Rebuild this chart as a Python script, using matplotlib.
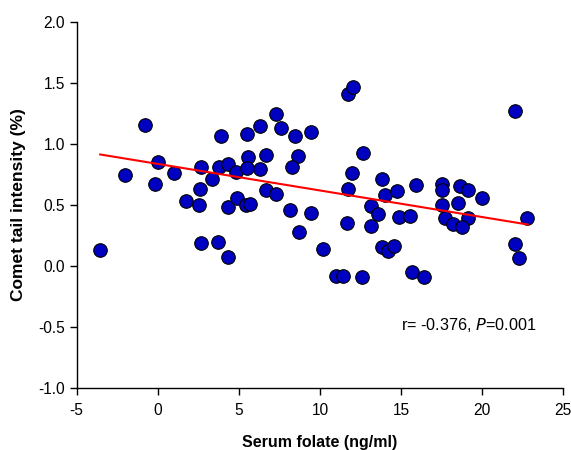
import matplotlib
matplotlib.use("Agg")
import matplotlib.pyplot as plt

plt.rcParams['font.family'] = ['Liberation Sans', 'DejaVu Sans']

# Serum folate (ng/ml) and comet tail intensity (%)
folate = [-3.55, -2.01, -0.76, 0.00, -0.15, 1.00, 1.76, 2.65, 2.58, 2.56, 2.68,
          3.90, 3.75, 3.36, 4.34, 4.80, 3.71, 4.31, 4.33, 4.90, 5.43, 5.48, 5.58,
          5.48, 5.68, 6.30, 7.28, 7.60, 6.66, 6.30, 8.47, 9.45, 8.65, 8.25,
          6.65, 7.28, 8.16, 9.45, 8.71, 10.17, 11.00, 11.40, 12.60, 11.73, 12.04,
          12.65, 11.96, 11.75, 11.65, 13.15, 13.56, 13.15, 13.82, 14.03, 14.75,
          14.89, 15.53, 13.80, 14.20, 14.58, 22.05, 15.94, 17.54, 17.54, 18.66,
          19.14, 19.96, 17.54, 18.50, 17.68, 19.14, 18.19, 18.77, 22.79, 22.00,
          22.25, 15.69, 16.40]
comet = [0.127, 0.75, 1.155, 0.857, 0.67, 0.76, 0.53, 0.81, 0.63, 0.50, 0.19,
         1.07, 0.81, 0.71, 0.84, 0.77, 0.20, 0.07, 0.48, 0.56, 0.50, 1.08, 0.895,
         0.80, 0.512, 1.147, 1.245, 1.133, 0.909, 0.794, 1.07, 1.10, 0.903, 0.816,
         0.624, 0.594, 0.457, 0.435, 0.277, 0.143, -0.085, -0.085, -0.09, 1.415, 1.465,
         0.93, 0.76, 0.63, 0.356, 0.496, 0.427, 0.326, 0.712, 0.586, 0.616,
         0.402, 0.41, 0.156, 0.123, 0.167, 1.273, 0.668, 0.676, 0.627, 0.654,
         0.627, 0.56, 0.498, 0.52, 0.39, 0.397, 0.342, 0.32, 0.397, 0.184,
         0.063, -0.052, -0.095]

# Regression line end points
fit_x = [-3.55, 22.81]
fit_y = [0.915, 0.34]

x_ticks = [-5, 0, 5, 10, 15, 20, 25]
y_ticks = [-1.0, -0.5, 0.0, 0.5, 1.0, 1.5, 2.0]

fig = plt.figure(figsize=(5.71, 4.5), dpi=100)
ax = fig.add_axes([0.1343, 0.1384, 0.8522, 0.812])

ax.scatter(folate, comet, s=95, c='#0000C0', edgecolors='black',
           linewidths=0.8, zorder=2, clip_on=False)
ax.plot(fit_x, fit_y, color='#FF0000', lw=1.5, zorder=3)

ax.set_xlim(-5, 25)
ax.set_ylim(-1.0, 2.0)
ax.set_xticks(x_ticks)
ax.set_xticklabels([str(v) for v in x_ticks])
ax.set_yticks(y_ticks)
ax.set_yticklabels([f"{v:.1f}" for v in y_ticks])

for side in ['top', 'right']:
    ax.spines[side].set_visible(False)
for side in ['left', 'bottom']:
    ax.spines[side].set_linewidth(1.0)
ax.tick_params(direction='out', length=5, width=1.0, labelsize=11.2)
ax.tick_params(axis='y', pad=3.5)
ax.tick_params(axis='x', pad=6)

ax.set_xlabel('Serum folate (ng/ml)', fontsize=11.5, fontweight='bold', labelpad=12)
ax.set_ylabel('Comet tail intensity (%)', fontsize=12.5, fontweight='bold', labelpad=9)

ax.text(15.0, -0.487, r'r= -0.376, $\it{P}$=0.001', fontsize=11.7, va='center', ha='left')

fig.savefig('out.png', dpi=100)
